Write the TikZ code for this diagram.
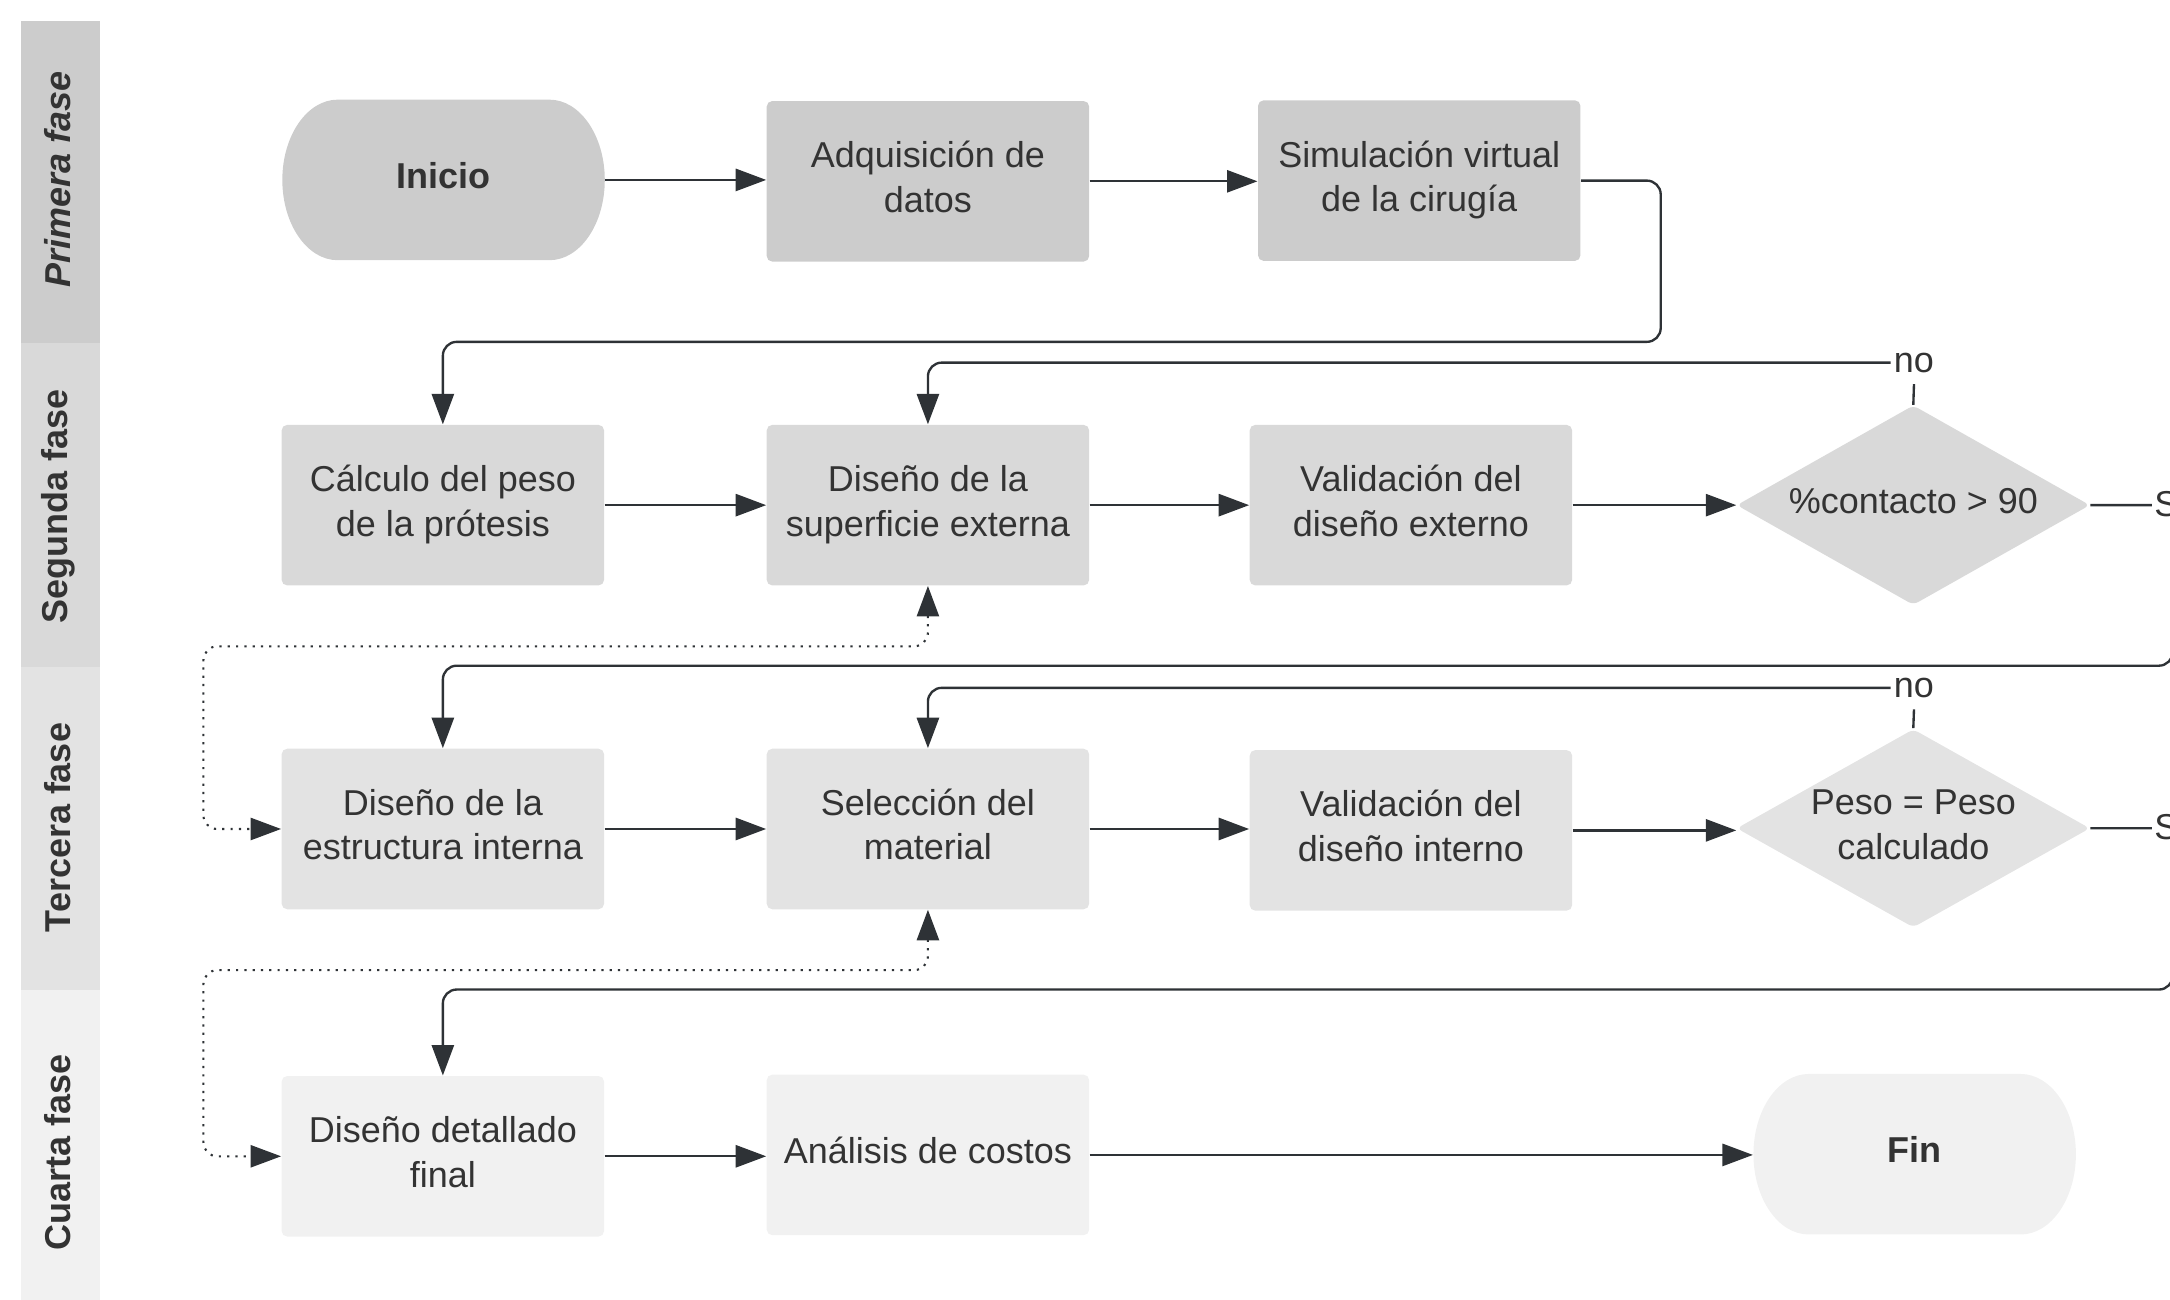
\documentclass[tikz,border=0pt]{standalone}
\usepackage{fontspec}
\setmainfont{Liberation Sans}
\usetikzlibrary{arrows.meta}
\definecolor{txt}{HTML}{333333}
\definecolor{ln}{HTML}{2E3236}
\definecolor{c1}{HTML}{CCCCCC}
\definecolor{c2}{HTML}{D9D9D9}
\definecolor{c3}{HTML}{E3E3E3}
\definecolor{c4}{HTML}{F1F1F1}
\newcommand\mystadium[6]{%
  \fill[#6] ({#1+#5},#2) -- ({#3-#5},#2)
    .. controls ({#3-0.448*#5},#2) and (#3,{#2+0.224*(#4-#2)}) .. (#3,{(#2+#4)/2})
    .. controls (#3,{#4-0.224*(#4-#2)}) and ({#3-0.448*#5},#4) .. ({#3-#5},#4)
    -- ({#1+#5},#4)
    .. controls ({#1+0.448*#5},#4) and (#1,{#4-0.224*(#4-#2)}) .. (#1,{(#2+#4)/2})
    .. controls (#1,{#2+0.224*(#4-#2)}) and ({#1+0.448*#5},#2) .. cycle;}
\newcommand\mydiamond[5]{% cx cy halfw halfh color
  \fill[#5, rounded corners=2pt] ({#1},{#2-#4}) -- ({#1+#3},#2) -- (#1,{#2+#4}) -- ({#1-#3},#2) -- cycle;}
\begin{document}
\begin{tikzpicture}[x=0.5pt,y=-0.5pt,
  txtf/.style={text=txt, font=\fontsize{13}{16}\selectfont},
  box/.style={txtf, rectangle, rounded corners=2pt, minimum width=116.5pt, minimum height=58pt, inner sep=0pt, align=center, text height=9.5pt, text depth=3.2pt},
  two/.style={text height=25.5pt, text depth=3.2pt},
  term/.style={txtf, rectangle, minimum width=116.5pt, minimum height=58pt, inner sep=0pt, align=center, font=\fontsize{13}{16}\selectfont\bfseries, text height=9.5pt, text depth=3.2pt},
  dia/.style={txtf, rectangle, minimum width=127.5pt, minimum height=72pt, inner sep=0pt, align=center, text height=9.5pt, text depth=3.2pt},
  lane/.style={text=txt, font=\fontsize{13}{16}\selectfont\bfseries, rotate=90, inner sep=0pt},
  conn/.style={draw=ln, line width=0.85pt, -{Triangle[length=11pt,width=8pt]}, rounded corners=5pt},
  plain/.style={draw=ln, line width=0.85pt},
  dotc/.style={draw=ln, line width=0.75pt, dash pattern=on 0.8pt off 2.2pt, {Triangle[length=11pt,width=8pt]}-{Triangle[length=11pt,width=8pt]}, rounded corners=5pt},
  lbl/.style={txtf, fill=white, inner xsep=1pt, inner ysep=4pt}
]
\useasboundingbox (0,0) rectangle (1568,939);
% swimlane header strip
\fill[c1] (15,15) rectangle (72,248);
\fill[c2] (15,248) rectangle (72,482);
\fill[c3] (15,482) rectangle (72,715);
\fill[c4] (15,715) rectangle (72,939);
\node[lane] (l1) at (42,130) {\itshape Primera fase};
\node[lane] (l2) at (42,366) {Segunda fase};
\node[lane] (l3) at (42,598) {Tercera fase};
\node[lane] (l4) at (42,833) {Cuarta fase};

% shape fills drawn directly
\mystadium{204}{72}{437}{188}{40}{c1}
\mystadium{1267}{776}{1500}{892}{40}{c4}
\mydiamond{1382.5}{365}{127.5}{72}{c2}
\mydiamond{1382.5}{598.5}{127.5}{71.5}{c3}

% row 1
\node[term] (ini) at (320.5,130) {Inicio};
\node[box, two, fill=c1] (adq) at (670.5,131) {Adquisición de\\datos};
\node[box, two, fill=c1] (sim) at (1025.5,130.5) {Simulación virtual\\de la cirugía};
% row 2
\node[box, two, fill=c2] (calc) at (320,365) {Cálculo del peso\\de la prótesis};
\node[box, two, fill=c2] (dsup) at (670.5,365) {Diseño de la\\superficie externa};
\node[box, two, fill=c2] (vext) at (1019.5,365) {Validación del\\diseño externo};
\node[dia] (d1) at (1382.5,365) {\%contacto > 90};
% row 3
\node[box, two, fill=c3] (dest) at (320,599) {Diseño de la\\estructura interna};
\node[box, two, fill=c3] (selm) at (670.5,599) {Selección del\\material};
\node[box, two, fill=c3] (vint) at (1019.5,600) {Validación del\\diseño interno};
\node[dia, two] (d2) at (1382.5,598.5) {Peso = Peso\\calculado};
% row 4
\node[box, two, fill=c4] (ddf) at (320,835.5) {Diseño detallado\\final};
\node[box, fill=c4] (anal) at (670.5,834.5) {Análisis de costos};
\node[term] (fin) at (1383.5,834) {Fin};

% connectors row 1
\draw[conn] (ini.east) -- (ini.east -| adq.west);
\draw[conn] (adq.east) -- (adq.east -| sim.west);
\draw[conn] (sim.east) -- (1200,130.5) -- (1200,247) -| (calc.north);
% row 2
\draw[conn] (calc.east) -- (dsup.west);
\draw[conn] (dsup.east) -- (vext.west);
\draw[conn] (vext.east) -- (d1.west);
\node[lbl] (no1) at (1383,262) {no};
\draw[plain] (d1.north) -- (no1.south);
\draw[conn] (no1.west) -| (dsup.north);
\draw[conn] (d1.east) -- (1570,365) -- (1570,481) -| (dest.north);
\node[lbl] (si1) at (1569,364) {Sí};
% row 3
\draw[conn] (dest.east) -- (selm.west);
\draw[conn] (selm.east) -- (selm.east -| vint.west);
\draw[conn] (vint.east) -- (vint.east -| d2.west);
\node[lbl] (no2) at (1383,497) {no};
\draw[plain] (d2.north) -- (no2.south);
\draw[conn] (no2.west) -| (selm.north);
\draw[conn] (d2.east) -- (1570,598.5) -- (1570,715) -| (ddf.north);
\node[lbl] (si2) at (1569,597) {Sí};
% row 4
\draw[conn] (ddf.east) -- (ddf.east -| anal.west);
\draw[conn] (anal.east) -- (anal.east -| fin.west);

% dotted links
\draw[dotc] (dsup.south) |- (147,467) |- (dest.west);
\draw[dotc] (selm.south) |- (147,701) |- (ddf.west);
\end{tikzpicture}
\end{document}
